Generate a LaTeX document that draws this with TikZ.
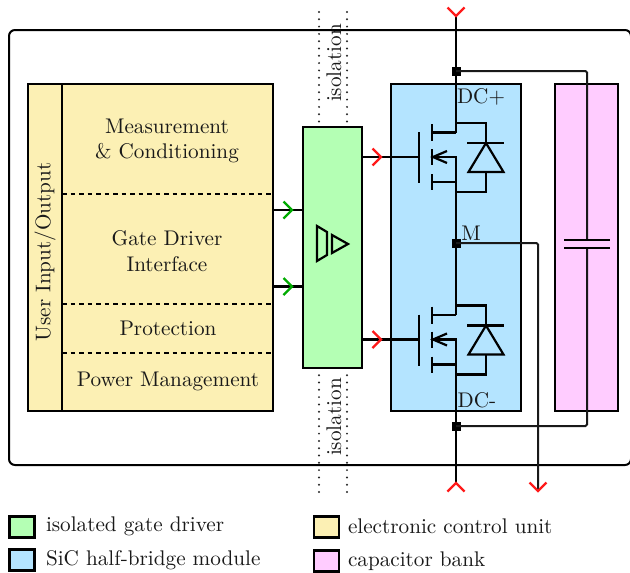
\documentclass[tikz,border=0pt]{standalone}
\usepackage{fontspec}
\setmainfont{lmroman10-regular.otf}
\usetikzlibrary{calc}
\definecolor{ecuc}{HTML}{FCF0B4}
\definecolor{drvc}{HTML}{B4FFB4}
\definecolor{modc}{HTML}{B4E4FF}
\definecolor{capc}{HTML}{FFCCFF}
\definecolor{arrred}{HTML}{FF1A1A}
\definecolor{arrgreen}{HTML}{00AA00}
\tikzset{
  x=1pt,y=-1pt,
  every node/.style={font=\fontsize{21.2}{25.5}\selectfont,text=black!90,inner sep=0pt,outer sep=0pt},
  wire/.style={draw=black,line width=2.2pt},
  thinwire/.style={draw=black!90,line width=2pt,rounded corners=1.5pt},
  block/.style={draw=black,line width=2.2pt,inner sep=0pt,outer sep=0pt},
  divider/.style={draw=black,line width=1.8pt,dash pattern=on 4.5pt off 4pt},
  isoline/.style={draw=black!85,line width=2.2pt,line cap=round,dash pattern=on 0pt off 7.3pt},
  junction/.style={fill=black,draw=none,minimum width=9pt,minimum height=9pt},
  swatch/.style={draw=black,line width=2.4pt,minimum width=25pt,minimum height=21pt},
  legend/.style={anchor=west},
  barb/.pic={\draw[line width=2.2pt,line join=miter,pic actions] (-8.5,-8.5)--(0,0)--(-8.5,8.5);},
  mosfet/.pic={
    \coordinate (-g) at (-37,0);
    \coordinate (-d) at (0,-24.5);
    \coordinate (-s) at (0,25);
    \draw[wire] (-37,-25)--(-37,26);
    \draw[wire] (-24,-33)--(-24,-16) (-24,-8)--(-24,8) (-24,17)--(-24,33);
    \draw[wire] (-24,-24.5)--(0,-24.5);
    \draw[wire] (-24,25)--(0,25)--(0,0)--(-23,0);
    \draw[wire] (-9,-6)--(-23,0)--(-9,6);
    \draw[wire] (0,-34)--(30,-34)--(30,-14);
    \draw[wire] (11,-14)--(48,-14);
    \draw[wire,line join=miter] (30,-14)--(47.5,15)--(12.5,15)--cycle;
    \draw[wire] (30,15)--(30,35)--(0,35);
  }
}
\begin{document}
\begin{tikzpicture}
\useasboundingbox (0,0) rectangle (630,573);
% enclosure
\draw[line width=2pt,draw=black,rounded corners=6pt] (9,30) rectangle (631,465);
% blocks
\node[block,fill=ecuc,minimum width=245pt,minimum height=327pt] (ecu) at (150.5,247.5) {};
\node[block,fill=ecuc,minimum width=34pt,minimum height=327pt] (uio) at (45,247.5) {};
\node[rotate=90] (uiotext) at (45,252) {User Input/Output};
\node[block,fill=drvc,minimum width=59pt,minimum height=241pt] (drv) at (332.5,247.5) {};
\node[block,fill=modc,minimum width=130pt,minimum height=327pt] (mod) at (456,247.5) {};
\node[block,fill=capc,minimum width=63pt,minimum height=327pt] (cap) at (586.5,247.5) {};
% ECU dividers
\draw[divider] (62,194)--(273,194);
\draw[divider] (62,304)--(273,304);
\draw[divider] (62,353)--(273,353);
\node[align=center] (meas) at (167,141) {Measurement\\\& Conditioning};
\node[align=center] (gdi) at (167,251) {Gate Driver\\Interface};
\node (prot) at (168,328) {Protection};
\node (pwr) at (168,381) {Power Management};
% isolation
\coordinate (isoAt) at (319,12);
\coordinate (isoBt) at (347,12);
\coordinate (isoAb) at (319,492);
\coordinate (isoBb) at (347,492);
\draw[isoline] (isoAt)--(drv.north -| isoAt);
\draw[isoline] (isoBt)--(drv.north -| isoBt);
\draw[isoline] (isoAb)--(drv.south -| isoAb);
\draw[isoline] (isoBb)--(drv.south -| isoBb);
\node[rotate=90] (isotop) at (334,63) {isolation};
\node[rotate=90] (isobot) at (334,417) {isolation};
% driver symbol
\draw[wire,line join=miter] (317,226)--(327,232)--(327,255)--(317,261)--cycle;
\draw[wire,line join=miter] (332,235)--(348,244)--(332,253)--cycle;
% MOSFETs
\pic (qh) at (456,157) {mosfet};
\pic (ql) at (456,339.5) {mosfet};
% junctions and terminals
\node[junction] (jp) at (456,71) {};
\node[junction] (jm) at (456,243) {};
\node[junction] (jn) at (456,426) {};
\coordinate (tp) at (456,16);
\coordinate (tn) at (456,483);
\coordinate (tm) at (538,491);
\coordinate (c1) at (587,240);
\coordinate (c2) at (587,248);
% power wires
\draw[wire] (tp)--(jp)--(qh-d);
\draw[wire] (qh-s)--(jm)--(ql-d);
\draw[wire] (ql-s)--(jn)--(tn);
\draw[thinwire] (jm.center)-|(tm);
\draw[thinwire] (jp.center)-|(c1);
\draw[thinwire] (jn.center)-|(c2);
\draw[wire] ($(c1)+(-23,0)$)--($(c1)+(23,0)$);
\draw[wire] ($(c2)+(-23,0)$)--($(c2)+(23,0)$);
% signal wires
\coordinate (e1) at (273,210);
\coordinate (e2) at (273,286.5);
\draw[wire] (e1)--(drv.west |- e1);
\draw[wire] (e2)--(drv.west |- e2);
\draw[wire] (drv.east |- qh-g)--(qh-g);
\draw[wire] (drv.east |- ql-g)--(ql-g);
% arrowheads
\pic[draw=arrgreen] at (292,210) {barb};
\pic[draw=arrgreen] at (292,286.5) {barb};
\pic[draw=arrred] at (381,157) {barb};
\pic[draw=arrred] at (381,339.5) {barb};
\pic[draw=arrred,rotate=-90] at (tp) {barb};
\pic[draw=arrred,rotate=90] at (tn) {barb};
\pic[draw=arrred,rotate=-90] at (tm) {barb};
% terminal labels
\node (dcp) at (481,97) {DC+};
\node (ml) at (471,233) {M};
\node (dcm) at (477,400) {DC-};
% legend
\node[swatch,fill=drvc] (s1) at (22,527) {};
\node[swatch,fill=modc] (s2) at (22,560) {};
\node[swatch,fill=ecuc] (s3) at (326.5,527) {};
\node[swatch,fill=capc] (s4) at (326.5,561) {};
\node[legend] (l1) at (46,526) {isolated gate driver};
\node[legend] (l2) at (46,560.5) {SiC half-bridge module};
\node[legend] (l3) at (348,526) {electronic control unit};
\node[legend] (l4) at (348,561) {capacitor bank};
\end{tikzpicture}
\end{document}
